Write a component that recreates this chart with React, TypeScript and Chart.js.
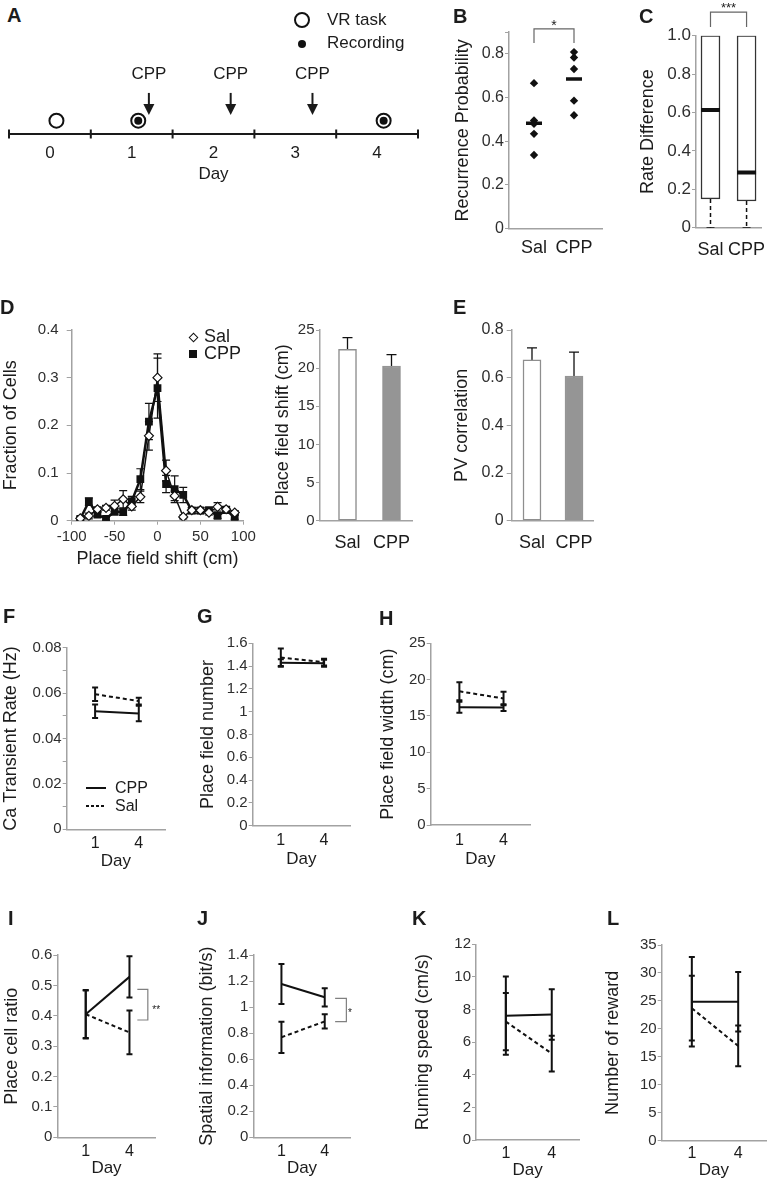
import React, { useEffect, useRef } from 'react';
import { Chart, registerables } from 'chart.js';

Chart.register(...registerables);

const FONT = "'Liberation Sans', Arial, Helvetica, sans-serif";
const AXIS_COLOR = '#a2a2a2';
const TICK_COLOR = '#2e2e2e';
const TITLE_COLOR = '#1c1c1c';
Chart.defaults.font.family = FONT;
Chart.defaults.color = TICK_COLOR;

// ================= DATA =================
// A – timeline
const timelineDays = ['0', '1', '2', '3', '4'];
const vrTaskDays = [0, 1, 4];
const recordingDays = [1, 4];
const cppDays = [1, 2, 3];

// B / C / D-bar / E groups
const groups = ['Sal', 'CPP'];

// B – recurrence probability
const recurrenceSal = [0.666, 0.495, 0.48, 0.434, 0.337];
const recurrenceCPP = [0.808, 0.783, 0.731, 0.586, 0.519];
const recurrenceMean = [0.482, 0.685];

// C – rate difference box plot
const rateDiffMin = [0, 0];
const rateDiffQ1 = [0.15, 0.139];
const rateDiffMedian = [0.613, 0.288];
const rateDiffQ3 = [1.0, 1.0];

// D – place field shift distribution
const shiftBins = [-90, -80, -70, -60, -50, -40, -30, -20, -10, 0, 10, 20, 30, 40, 50, 60, 70, 80, 90];
const fractionSal = [0.005, 0.01, 0.024, 0.027, 0.031, 0.045, 0.03, 0.05, 0.178, 0.3, 0.105, 0.052, 0.008, 0.022, 0.022, 0.017, 0.029, 0.024, 0.017];
const fractionSalErr = [0.003, 0.006, 0.005, 0.005, 0.012, 0.018, 0.008, 0.012, 0.03, 0.05, 0.022, 0.01, 0.004, 0.006, 0.006, 0.005, 0.009, 0.006, 0.004];
const fractionCPP = [0.004, 0.04, 0.013, 0.004, 0.019, 0.018, 0.041, 0.087, 0.208, 0.278, 0.077, 0.066, 0.054, 0.021, 0.021, 0.022, 0.01, 0.022, 0.007];
const fractionCPPErr = [0.003, 0.008, 0.005, 0.003, 0.007, 0.007, 0.01, 0.022, 0.038, 0.063, 0.018, 0.028, 0.016, 0.006, 0.006, 0.005, 0.005, 0.006, 0.004];

// D – mean place field shift
const shiftMean = [22.45, 20.28];
const shiftErr = [1.55, 1.48];

// E – PV correlation
const pvMean = [0.675, 0.607];
const pvErr = [0.05, 0.1];

// F–L day comparisons
const dayLabels = ['1', '4'];
const caRateCPP = [0.052, 0.051];
const caRateCPPErr = [0.003, 0.0034];
const caRateSal = [0.0595, 0.0565];
const caRateSalErr = [0.003, 0.0015];

const fieldNumCPP = [1.43, 1.425];
const fieldNumCPPErr = [0.03, 0.03];
const fieldNumSal = [1.475, 1.435];
const fieldNumSalErr = [0.08, 0.03];

const fieldWidthCPP = [16.2, 16.15];
const fieldWidthCPPErr = [0.75, 0.45];
const fieldWidthSal = [18.4, 17.4];
const fieldWidthSalErr = [1.25, 0.92];

const cellRatioCPP = [0.405, 0.528];
const cellRatioCPPErr = [0.08, 0.068];
const cellRatioSal = [0.405, 0.345];
const cellRatioSalErr = [0.078, 0.072];

const spatialInfoCPP = [1.177, 1.075];
const spatialInfoCPPErr = [0.153, 0.07];
const spatialInfoSal = [0.768, 0.89];
const spatialInfoSalErr = [0.12, 0.055];

const speedCPP = [7.62, 7.7];
const speedCPPErr = [2.4, 1.55];
const speedSal = [7.26, 5.3];
const speedSalErr = [1.75, 1.1];

const rewardCPP = [24.85, 24.85];
const rewardCPPErr = [8.0, 5.3];
const rewardSal = [23.7, 16.95];
const rewardSalErr = [5.8, 3.65];

// ================= LAYOUT =================
type Geo = { x: number; y: number; w: number; h: number; l: number; t: number; r: number; b: number; tickY: number };

const G: Record<string, Geo> = {
  A: { x: 0, y: 50, w: 440, h: 135, l: 7, t: 60, r: 418, b: 134, tickY: 153 },
  B: { x: 452, y: 0, w: 163, h: 262, l: 509, t: 32, r: 602, b: 228.7, tickY: 248 },
  C: { x: 637, y: 0, w: 138, h: 262, l: 696, t: 35.7, r: 775, b: 227.7, tickY: 250 },
  D1: { x: 0, y: 290, w: 265, h: 280, l: 71.7, t: 330, r: 243.3, b: 520.7, tickY: 537 },
  D2: { x: 272, y: 290, w: 153, h: 275, l: 320, t: 330, r: 412, b: 520.7, tickY: 543 },
  E: { x: 451, y: 290, w: 159, h: 275, l: 511.7, t: 330, r: 593, b: 520.7, tickY: 543 },
  F: { x: 0, y: 620, w: 180, h: 252, l: 66.7, t: 647.7, r: 165, b: 829.3, tickY: 844 },
  G: { x: 197, y: 620, w: 168, h: 250, l: 252.7, t: 643.3, r: 350, b: 825.7, tickY: 841 },
  H: { x: 377, y: 620, w: 168, h: 250, l: 430.7, t: 643.3, r: 530, b: 825, tickY: 841 },
  I: { x: 1, y: 925, w: 194, h: 254, l: 57.3, t: 955, r: 155.7, b: 1137.3, tickY: 1152 },
  J: { x: 196, y: 925, w: 174, h: 254, l: 253.3, t: 955, r: 350.7, b: 1137.3, tickY: 1152 },
  K: { x: 412, y: 915, w: 183, h: 266, l: 476, t: 944.3, r: 579.3, b: 1140, tickY: 1154 },
  L: { x: 602, y: 915, w: 173, h: 266, l: 661.7, t: 945, r: 766, b: 1140.7, tickY: 1154 },
};

const fitY = (g: Geo) => (s: any) => { s.width = g.l - g.x; s.paddingTop = 0; s.paddingBottom = 0; };
const fitX = (g: Geo) => (s: any) => { s.height = g.y + g.h - g.b; s.paddingLeft = 0; s.paddingRight = 0; };
const fmtNum = (v: number) => String(Number(Number(v).toFixed(4)));
const NO_GRID = { display: false, drawTicks: false, tickLength: 0 };

function baseOptions(g: Geo, scales: any, noY = false) {
  return {
    responsive: false,
    animation: false,
    events: [],
    layout: { padding: { left: noY ? g.l - g.x : 0, top: g.t - g.y, right: g.x + g.w - g.r, bottom: 0 } },
    plugins: { legend: { display: false }, tooltip: { enabled: false } },
    scales,
  };
}

function yAxis(g: Geo, o: { min: number; max: number; step: number; labelStep?: number; title: string; size?: number; tl?: number; pad?: number; fmt?: (v: number) => string }) {
  const ls = o.labelStep ?? o.step;
  const fmt = o.fmt ?? fmtNum;
  return {
    type: 'linear', position: 'left', min: o.min, max: o.max, bounds: 'data',
    afterFit: fitY(g),
    grid: { display: true, drawOnChartArea: false, drawTicks: true, tickLength: o.tl ?? 4, color: AXIS_COLOR, lineWidth: 1 },
    border: { display: true, color: AXIS_COLOR, width: 1.5 },
    ticks: {
      stepSize: o.step, includeBounds: false, autoSkip: false, padding: o.pad ?? 1, color: TICK_COLOR,
      font: { size: o.size ?? 15 },
      callback: (v: number) => { const q = v / ls; return Math.abs(q - Math.round(q)) < 1e-6 ? fmt(v) : ''; },
    },
    title: { display: true, text: o.title, color: TITLE_COLOR, font: { size: 18, lineHeight: 1.2 }, padding: { top: 0, bottom: 0 } },
  };
}

function groupXAxis(g: Geo, min: number, max: number, size = 17) {
  return {
    type: 'linear', min, max, bounds: 'data', offset: false,
    afterBuildTicks: (s: any) => { s.ticks = groups.map((_, i) => ({ value: i })); },
    afterFit: fitX(g),
    grid: { ...NO_GRID, offset: false },
    border: { display: true, color: AXIS_COLOR, width: 1.5 },
    ticks: {
      autoSkip: false, maxRotation: 0, padding: g.tickY - g.b - size * 0.6, color: TITLE_COLOR,
      font: { size }, callback: (v: number) => groups[Math.round(v)] ?? '',
    },
  };
}

function dayXAxis(g: Geo) {
  const size = 16;
  return {
    type: 'linear', min: -0.65, max: 1.6, bounds: 'data', offset: false,
    afterBuildTicks: (s: any) => { s.ticks = dayLabels.map((_, i) => ({ value: i })); },
    afterFit: fitX(g),
    grid: NO_GRID,
    border: { display: true, color: AXIS_COLOR, width: 1.5 },
    ticks: {
      autoSkip: false, maxRotation: 0, padding: g.tickY - g.b - size * 0.6, color: TITLE_COLOR,
      font: { size }, callback: (v: number) => dayLabels[Math.round(v)] ?? '',
    },
    title: { display: true, text: 'Day', color: TITLE_COLOR, font: { size: 17, lineHeight: 1.2 }, padding: { top: 0, bottom: 0 } },
  };
}

// ================= PLUGINS =================
const errorBarsPlugin = {
  id: 'errorBars',
  beforeDatasetsDraw(chart: any) {
    const ctx = chart.ctx;
    chart.data.datasets.forEach((ds: any, i: number) => {
      if (!ds.errors) return;
      const meta = chart.getDatasetMeta(i);
      const yScale = chart.scales[meta.yAxisID];
      ctx.save();
      ctx.setLineDash([]);
      ctx.strokeStyle = ds.errorColor || '#111';
      ctx.lineWidth = ds.errorWidth || 1.5;
      const c = ds.errorCap ?? 3;
      meta.data.forEach((el: any, j: number) => {
        const e = ds.errors[j];
        if (e == null) return;
        const raw = ds.data[j];
        const v = typeof raw === 'number' ? raw : raw.y;
        const x = el.x;
        const y1 = yScale.getPixelForValue(v + e);
        const y2 = yScale.getPixelForValue(v - e);
        ctx.beginPath();
        ctx.moveTo(x, y1); ctx.lineTo(x, y2);
        ctx.moveTo(x - c, y1); ctx.lineTo(x + c, y1);
        ctx.moveTo(x - c, y2); ctx.lineTo(x + c, y2);
        ctx.stroke();
      });
      ctx.restore();
    });
  },
};
Chart.register(errorBarsPlugin);

function bracketPlugin(pts: [number, number][], label: { x: number; y: number; text: string; size: number }, color = '#808080') {
  return {
    id: 'bracket',
    afterDatasetsDraw(chart: any) {
      const { ctx } = chart;
      const x = chart.scales.x, y = chart.scales.y;
      ctx.save();
      ctx.strokeStyle = color;
      ctx.lineWidth = 1.2;
      ctx.setLineDash([]);
      ctx.beginPath();
      pts.forEach(([px, py], i) => {
        const X = x.getPixelForValue(px), Y = y.getPixelForValue(py);
        if (i) ctx.lineTo(X, Y); else ctx.moveTo(X, Y);
      });
      ctx.stroke();
      ctx.fillStyle = '#222';
      ctx.font = `${label.size}px ${FONT}`;
      ctx.textAlign = 'center';
      ctx.textBaseline = 'middle';
      ctx.fillText(label.text, x.getPixelForValue(label.x), y.getPixelForValue(label.y));
      ctx.restore();
    },
  };
}

// timeline positions (panel A)
const EVENT_OFFSET = 0.08;
const EVENT_LEVEL = 0.18;
const ARROW_OFFSET = 0.21;
const ARROW_TOP = 0.555;
const ARROW_TIP = 0.257;
const CPP_LABEL_LEVEL = 0.8;

const timelinePlugin = {
  id: 'timeline',
  beforeDatasetsDraw(chart: any) {
    const { ctx } = chart;
    const x = chart.scales.x, y = chart.scales.y;
    const y0 = y.getPixelForValue(0);
    ctx.save();
    ctx.strokeStyle = '#1a1a1a';
    ctx.fillStyle = '#1a1a1a';
    ctx.lineWidth = 2;
    ctx.beginPath();
    ctx.moveTo(x.getPixelForValue(-0.5), y0);
    ctx.lineTo(x.getPixelForValue(timelineDays.length - 0.5), y0);
    for (let i = 0; i <= timelineDays.length; i++) {
      const px = x.getPixelForValue(i - 0.5);
      ctx.moveTo(px, y0 - 4.5);
      ctx.lineTo(px, y0 + 4.5);
    }
    ctx.stroke();
    ctx.font = `17px ${FONT}`;
    ctx.textAlign = 'center';
    ctx.textBaseline = 'middle';
    cppDays.forEach((d) => {
      const px = x.getPixelForValue(d + ARROW_OFFSET);
      const top = y.getPixelForValue(ARROW_TOP);
      const tip = y.getPixelForValue(ARROW_TIP);
      ctx.beginPath();
      ctx.moveTo(px, top);
      ctx.lineTo(px, tip - 8);
      ctx.stroke();
      ctx.beginPath();
      ctx.moveTo(px - 5.5, tip - 11);
      ctx.lineTo(px + 5.5, tip - 11);
      ctx.lineTo(px, tip);
      ctx.closePath();
      ctx.fill();
      ctx.fillText('CPP', px, y.getPixelForValue(CPP_LABEL_LEVEL));
    });
    ctx.restore();
  },
};

// ================= CHART CONFIGS =================
const makeA = () => ({
  type: 'scatter',
  data: {
    datasets: [
      {
        label: 'Recording', data: recordingDays.map((d) => ({ x: d + EVENT_OFFSET, y: EVENT_LEVEL })),
        pointStyle: 'circle', pointRadius: 4, pointBackgroundColor: '#111', pointBorderColor: '#111', pointBorderWidth: 0,
      },
      {
        label: 'VR task', data: vrTaskDays.map((d) => ({ x: d + EVENT_OFFSET, y: EVENT_LEVEL })),
        pointStyle: 'circle', pointRadius: 7, pointBackgroundColor: '#fff', pointBorderColor: '#111', pointBorderWidth: 2,
      },
    ],
  },
  options: baseOptions(G.A, {
    x: {
      type: 'linear', min: -0.5, max: timelineDays.length - 0.5, bounds: 'data', offset: false,
      afterBuildTicks: (s: any) => { s.ticks = timelineDays.map((_, i) => ({ value: i })); },
      afterFit: fitX(G.A),
      grid: NO_GRID,
      border: { display: false },
      ticks: { autoSkip: false, maxRotation: 0, padding: G.A.tickY - G.A.b - 10.2, color: TITLE_COLOR, font: { size: 17 }, callback: (v: number) => timelineDays[Math.round(v)] ?? '' },
      title: { display: true, text: 'Day', color: TITLE_COLOR, font: { size: 17, lineHeight: 1.2 }, padding: { top: 0, bottom: 0 } },
    },
    y: { type: 'linear', display: false, min: 0, max: 1 },
  }, true),
  plugins: [timelinePlugin],
});

const makeB = () => ({
  type: 'scatter',
  data: {
    datasets: [
      {
        label: 'mean', data: recurrenceMean.map((y, i) => ({ x: i, y })),
        pointStyle: 'line', pointRadius: 8, pointBorderWidth: 3.5, pointBorderColor: '#111',
      },
      {
        label: 'Sal', data: recurrenceSal.map((y) => ({ x: 0, y })),
        pointStyle: 'rectRot', pointRadius: 4.2, pointBackgroundColor: '#111', pointBorderColor: '#111', pointBorderWidth: 0,
      },
      {
        label: 'CPP', data: recurrenceCPP.map((y) => ({ x: 1, y })),
        pointStyle: 'rectRot', pointRadius: 4.2, pointBackgroundColor: '#111', pointBorderColor: '#111', pointBorderWidth: 0,
      },
    ],
  },
  options: baseOptions(G.B, {
    x: groupXAxis(G.B, -0.625, 1.7, 18),
    y: yAxis(G.B, { min: 0, max: 0.9, step: 0.2, title: 'Recurrence Probability', size: 16, tl: 4, pad: 1 }),
  }),
  plugins: [bracketPlugin([[0, 0.85], [0, 0.914], [1, 0.914], [1, 0.85]], { x: 0.5, y: 0.926, text: '*', size: 14 }, '#666')],
});

const makeC = () => ({
  type: 'bar',
  data: {
    datasets: [
      {
        type: 'line', label: 'median', data: rateDiffMedian.map((y, i) => ({ x: i, y })), showLine: false,
        pointStyle: 'line', pointRadius: 9.5, pointBorderWidth: 4, pointBorderColor: '#111', borderColor: '#111',
      },
      {
        type: 'line', label: 'cap', data: rateDiffMin.map((y, i) => ({ x: i, y })), showLine: false,
        pointStyle: 'line', pointRadius: 4, pointBorderWidth: 1.5, pointBorderColor: '#111', borderColor: '#111',
      },
      ...groups.map((_, i) => ({
        type: 'line', label: 'whisker' + i, data: [{ x: i, y: rateDiffQ1[i] }, { x: i, y: rateDiffMin[i] }],
        borderColor: '#111', borderWidth: 1.5, borderDash: [4, 3], pointRadius: 0,
      })),
      {
        type: 'bar', label: 'box', data: groups.map((_, i) => ({ x: i, y: [rateDiffQ1[i], rateDiffQ3[i]] })),
        backgroundColor: '#fff', borderColor: '#333', borderWidth: 1.5, borderSkipped: false, barThickness: 19,
      },
    ],
  },
  options: baseOptions(G.C, {
    x: groupXAxis(G.C, -0.402, 1.414, 18),
    y: yAxis(G.C, { min: 0, max: 1, step: 0.2, title: 'Rate Difference', size: 17, tl: 4, pad: 1, fmt: (v) => (Math.abs(v) < 1e-9 ? '0' : Number(v).toFixed(1)) }),
  }),
  plugins: [bracketPlugin([[0, 1.045], [0, 1.123], [1, 1.123], [1, 1.045]], { x: 0.5, y: 1.144, text: '***', size: 13 }, '#666')],
});

const makeD1 = () => ({
  type: 'line',
  data: {
    datasets: [
      {
        label: 'Sal', data: shiftBins.map((x, i) => ({ x, y: fractionSal[i] })),
        borderColor: '#111', borderWidth: 1.5, pointStyle: 'rectRot', pointRadius: 4.5,
        pointBackgroundColor: '#fff', pointBorderColor: '#111', pointBorderWidth: 1.2,
        errors: fractionSalErr, errorWidth: 1.2, errorCap: 4,
      },
      {
        label: 'CPP', data: shiftBins.map((x, i) => ({ x, y: fractionCPP[i] })),
        borderColor: '#111', borderWidth: 2.5, pointStyle: 'rect', pointRadius: 5.5,
        pointBackgroundColor: '#111', pointBorderColor: '#111', pointBorderWidth: 0,
        errors: fractionCPPErr, errorWidth: 1.2, errorCap: 4,
      },
    ],
  },
  options: baseOptions(G.D1, {
    x: {
      type: 'linear', min: -100, max: 100, bounds: 'data', offset: false,
      afterFit: fitX(G.D1),
      grid: { display: true, drawOnChartArea: false, drawTicks: true, tickLength: 4, color: AXIS_COLOR, lineWidth: 1 },
      border: { display: true, color: AXIS_COLOR, width: 1.5 },
      ticks: { stepSize: 50, autoSkip: false, maxRotation: 0, padding: G.D1.tickY - G.D1.b - 4 - 9, color: TICK_COLOR, font: { size: 15 }, callback: (v: number) => fmtNum(v) },
      title: { display: true, text: 'Place field shift (cm)', color: TITLE_COLOR, font: { size: 18, lineHeight: 1.2 }, padding: { top: 0, bottom: 0 } },
    },
    y: yAxis(G.D1, { min: 0, max: 0.4, step: 0.1, title: 'Fraction of Cells', size: 15, tl: 5, pad: 8 }),
  }),
});

function groupBarConfig(g: Geo, xr: [number, number], means: number[], errs: number[], y: any) {
  return () => ({
    type: 'bar',
    data: {
      datasets: [
        {
          label: 'mean', data: means.map((v, i) => ({ x: i, y: v })),
          backgroundColor: ['#ffffff', '#959595'], borderColor: ['#8e8e8e', '#959595'], borderWidth: 1.5,
          borderSkipped: false, barThickness: 18, errors: errs, errorWidth: 1.3, errorCap: 5,
        },
      ],
    },
    options: baseOptions(g, { x: groupXAxis(g, xr[0], xr[1], 18), y }),
  });
}

const makeD2 = groupBarConfig(G.D2, [-0.625, 1.466], shiftMean, shiftErr,
  yAxis(G.D2, { min: 0, max: 25, step: 5, title: 'Place field shift (cm)', size: 15, tl: 4, pad: 1.5 }));
const makeE = groupBarConfig(G.E, [-0.483, 1.452], pvMean, pvErr,
  yAxis(G.E, { min: 0, max: 0.8, step: 0.2, title: 'PV correlation', size: 16, tl: 5, pad: 3 }));

function dayPanel(g: Geo, o: { max: number; step: number; labelStep?: number; title: string; cpp: number[]; cppErr: number[]; sal: number[]; salErr: number[]; plugins?: any[] }) {
  return () => ({
    type: 'line',
    data: {
      datasets: [
        {
          label: 'CPP', data: o.cpp.map((y, i) => ({ x: i, y })), borderColor: '#111', borderWidth: 2,
          pointRadius: 0, errors: o.cppErr, errorWidth: 2, errorCap: 3,
        },
        {
          label: 'Sal', data: o.sal.map((y, i) => ({ x: i, y })), borderColor: '#111', borderWidth: 2, borderDash: [4, 3],
          pointRadius: 0, errors: o.salErr, errorWidth: 2, errorCap: 3,
        },
      ],
    },
    options: baseOptions(g, {
      x: dayXAxis(g),
      y: yAxis(g, { min: 0, max: o.max, step: o.step, labelStep: o.labelStep, title: o.title, size: 15, tl: 4, pad: 1 }),
    }),
    plugins: o.plugins ?? [],
  });
}

const makeF = dayPanel(G.F, { max: 0.08, step: 0.01, labelStep: 0.02, title: 'Ca Transient Rate (Hz)', cpp: caRateCPP, cppErr: caRateCPPErr, sal: caRateSal, salErr: caRateSalErr });
const makeG = dayPanel(G.G, { max: 1.6, step: 0.2, title: 'Place field number', cpp: fieldNumCPP, cppErr: fieldNumCPPErr, sal: fieldNumSal, salErr: fieldNumSalErr });
const makeH = dayPanel(G.H, { max: 25, step: 5, title: 'Place field width (cm)', cpp: fieldWidthCPP, cppErr: fieldWidthCPPErr, sal: fieldWidthSal, salErr: fieldWidthSalErr });
const makeI = dayPanel(G.I, {
  max: 0.6, step: 0.1, title: 'Place cell ratio', cpp: cellRatioCPP, cppErr: cellRatioCPPErr, sal: cellRatioSal, salErr: cellRatioSalErr,
  plugins: [bracketPlugin([[1.18, 0.487], [1.42, 0.487], [1.42, 0.386], [1.18, 0.386]], { x: 1.61, y: 0.419, text: '**', size: 10 })],
});
const makeJ = dayPanel(G.J, {
  max: 1.4, step: 0.2, title: 'Spatial information (bit/s)', cpp: spatialInfoCPP, cppErr: spatialInfoCPPErr, sal: spatialInfoSal, salErr: spatialInfoSalErr,
  plugins: [bracketPlugin([[1.24, 1.067], [1.5, 1.067], [1.5, 0.888], [1.24, 0.888]], { x: 1.58, y: 0.955, text: '*', size: 10 })],
});
const makeK = dayPanel(G.K, { max: 12, step: 2, title: 'Running speed (cm/s)', cpp: speedCPP, cppErr: speedCPPErr, sal: speedSal, salErr: speedSalErr });
const makeL = dayPanel(G.L, { max: 35, step: 5, title: 'Number of reward', cpp: rewardCPP, cppErr: rewardCPPErr, sal: rewardSal, salErr: rewardSalErr });

// ================= COMPONENTS =================
function Panel({ g, make }: { g: Geo; make: () => any }) {
  const ref = useRef<HTMLCanvasElement | null>(null);
  useEffect(() => {
    if (!ref.current) return;
    const chart = new Chart(ref.current, make());
    return () => chart.destroy();
  }, []);
  return (
    <canvas
      ref={ref}
      width={g.w}
      height={g.h}
      style={{ position: 'absolute', left: g.x, top: g.y, width: g.w, height: g.h }}
    />
  );
}

function Label({ x, y, size, text, bold }: { x: number; y: number; size: number; text: string; bold?: boolean }) {
  return (
    <div
      style={{
        position: 'absolute', left: x, top: y - size * 0.6, fontSize: size, lineHeight: `${size * 1.2}px`,
        fontWeight: bold ? 700 : 400, whiteSpace: 'nowrap', color: TITLE_COLOR,
      }}
    >
      {text}
    </div>
  );
}

const panelLetters: [string, number, number][] = [
  ['A', 7, 14.5], ['B', 453, 15.5], ['C', 639, 16], ['D', 0, 306.5], ['E', 453, 307],
  ['F', 3, 615.5], ['G', 197, 616], ['H', 379, 618], ['I', 8, 917.5], ['J', 197, 917.5], ['K', 412, 918], ['L', 607, 918],
];

export default function App() {
  const abs = (s: any) => ({ position: 'absolute' as const, ...s });
  return (
    <div style={{ position: 'absolute', left: 0, top: 0, width: 775, height: 1185, background: '#fff', overflow: 'hidden', fontFamily: FONT }}>
      <Panel g={G.A} make={makeA} />
      <Panel g={G.B} make={makeB} />
      <Panel g={G.C} make={makeC} />
      <Panel g={G.D1} make={makeD1} />
      <Panel g={G.D2} make={makeD2} />
      <Panel g={G.E} make={makeE} />
      <Panel g={G.F} make={makeF} />
      <Panel g={G.G} make={makeG} />
      <Panel g={G.H} make={makeH} />
      <Panel g={G.I} make={makeI} />
      <Panel g={G.J} make={makeJ} />
      <Panel g={G.K} make={makeK} />
      <Panel g={G.L} make={makeL} />

      {panelLetters.map(([t, x, y]) => (
        <Label key={t} x={x} y={y} size={20} text={t} bold />
      ))}

      {/* Legend A */}
      <div style={abs({ left: 294, top: 12, width: 12, height: 12, border: '2px solid #111', borderRadius: '50%', background: '#fff' })} />
      <Label x={327} y={20} size={17} text="VR task" />
      <div style={abs({ left: 297.5, top: 39.5, width: 8.5, height: 8.5, borderRadius: '50%', background: '#111' })} />
      <Label x={327} y={43.5} size={17} text="Recording" />

      {/* Legend D */}
      <div style={abs({ left: 189.5, top: 333.5, width: 5, height: 5, border: '1.3px solid #111', background: '#fff', transform: 'rotate(45deg)' })} />
      <Label x={204} y={337} size={18} text="Sal" />
      <div style={abs({ left: 189, top: 350, width: 7.5, height: 7.5, background: '#111' })} />
      <Label x={204} y={354} size={18} text="CPP" />

      {/* Legend F */}
      <div style={abs({ left: 86, top: 787, width: 20, height: 2, background: '#111' })} />
      <Label x={115} y={788} size={16} text="CPP" />
      <div style={abs({ left: 86, top: 805, width: 20, height: 2, background: 'repeating-linear-gradient(to right, #111 0 3px, transparent 3px 5px)' })} />
      <Label x={115} y={806} size={16} text="Sal" />
    </div>
  );
}
